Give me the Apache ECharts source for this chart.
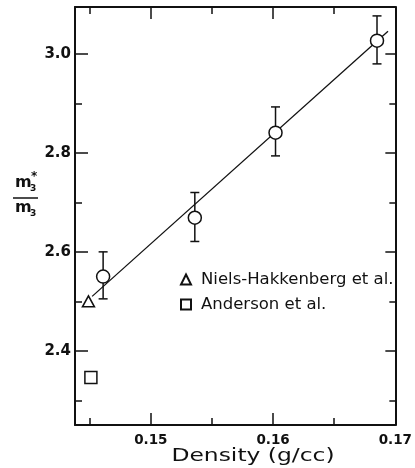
<!DOCTYPE html>
<html>
<head>
<meta charset="utf-8">
<script src="https://cdn.jsdelivr.net/npm/echarts@6/dist/echarts.min.js"></script>
<style>html,body{margin:0;padding:0;background:#fff;}#c{width:415px;height:468px;}</style>
</head>
<body>
<div id="c"></div>
<script>
// ---- data ----
const densities = [0.1461, 0.1536, 0.1602, 0.1685];
const massRatio = [2.550, 2.669, 2.841, 3.027];
const errLow    = [2.505, 2.621, 2.794, 2.980];
const errHigh   = [2.600, 2.720, 2.893, 3.077];
const nielsPoint = [[0.1449, 2.500]];
const andersonPoint = [[0.1451, 2.346]];
const fitLine = [[0.1452, 2.510], [0.1694, 3.046]];
const xMajorTicks = [0.15, 0.16, 0.17];
const xMinorTicks = [0.145, 0.155, 0.165];
const xTickLabels = ['0.15', '0.16', '0.17'];
const yMajorTicks = [2.4, 2.6, 2.8, 3.0];
const yMinorTicks = [2.3, 2.5, 2.7, 2.9];
const yTickLabels = ['2.4', '2.6', '2.8', '3.0'];
const legendNames = ['Niels-Hakkenberg et al.', 'Anderson et al.'];
const xTitle = 'Density (g/cc)';

const FONT = 'DejaVu Sans';
const INK = '#111';
const X_MIN = 0.1438, X_MAX = 0.17, Y_MIN = 2.25, Y_MAX = 3.095;

function fmtX(v) { const i = xMajorTicks.findIndex(t => Math.abs(t - v) < 1e-9); return i >= 0 ? xTickLabels[i] : ''; }
function fmtY(v) { const i = yMajorTicks.findIndex(t => Math.abs(t - v) < 1e-9); return i >= 0 ? yTickLabels[i] : ''; }

function xAx(pos, ticks, len, showLine, labels) {
  return {
    type: 'value', position: pos, min: X_MIN, max: X_MAX, gridIndex: 0,
    axisLine: { show: showLine, onZero: false, lineStyle: { color: INK, width: 2 } },
    axisTick: { show: true, inside: true, length: len, customValues: ticks, lineStyle: { color: INK, width: 1.5 } },
    axisLabel: labels ? { show: true, customValues: ticks, formatter: fmtX, margin: 8,
      fontFamily: FONT, fontSize: 13.5, fontWeight: 'bold', color: INK } : { show: false },
    splitLine: { show: false }
  };
}
function yAx(pos, ticks, len, showLine, labels) {
  return {
    type: 'value', position: pos, min: Y_MIN, max: Y_MAX, gridIndex: 0,
    axisLine: { show: showLine, onZero: false, lineStyle: { color: INK, width: 2 } },
    axisTick: { show: true, inside: true, length: len, customValues: ticks, lineStyle: { color: INK, width: 1.5 } },
    axisLabel: labels ? { show: true, customValues: ticks, formatter: fmtY, margin: 4,
      fontFamily: FONT, fontSize: 15, fontWeight: 'bold', color: INK } : { show: false },
    splitLine: { show: false }
  };
}

const xAxes = [
  xAx('bottom', xMajorTicks, 12, true, true),
  xAx('bottom', xMinorTicks, 7, false, false),
  xAx('top', xMajorTicks, 12, true, false),
  xAx('top', xMinorTicks, 7, false, false)
];

const yAxes = [
  yAx('left', yMajorTicks, 13, true, true),
  yAx('left', yMinorTicks, 7, false, false),
  yAx('right', yMajorTicks, 10, true, false),
  yAx('right', yMinorTicks, 6, false, false)
];

const sym = { color: '#fff', borderColor: INK, borderWidth: 1.5, opacity: 1 };

const chart = echarts.init(document.getElementById('c'), null, { renderer: 'canvas' });
chart.setOption({
  animation: false,
  backgroundColor: '#fff',
  grid: { left: 75, right: 17, top: 7, bottom: 43, containLabel: false },
  xAxis: xAxes,
  yAxis: yAxes,
  legend: {
    orient: 'vertical', left: 180, top: 271, padding: 0, itemWidth: 10, itemHeight: 10, itemGap: 8,
    selectedMode: false,
    textStyle: { fontFamily: FONT, fontSize: 16.5, color: INK, padding: [0, 0, 0, 5] },
    data: [{ name: legendNames[0], icon: 'triangle' }, { name: legendNames[1], icon: 'rect' }]
  },
  graphic: [
    { type: 'text', x: 253, y: 447, scaleX: 1.3, originX: 0, style: { text: xTitle, font: '18px "DejaVu Sans"', fill: INK, align: 'center', verticalAlign: 'top' } },
    { type: 'text', left: 15, top: 175, style: { text: 'm', font: 'bold 16px "DejaVu Sans"', fill: INK } },
    { type: 'text', left: 30, top: 184, style: { text: '3', font: 'bold 9px "DejaVu Sans"', fill: INK } },
    { type: 'text', left: 31, top: 171, style: { text: '*', font: 'bold 12px "DejaVu Sans"', fill: INK } },
    { type: 'line', shape: { x1: 13, y1: 198, x2: 38, y2: 198 }, style: { stroke: INK, lineWidth: 1.5 } },
    { type: 'text', left: 15, top: 200, style: { text: 'm', font: 'bold 16px "DejaVu Sans"', fill: INK } },
    { type: 'text', left: 30, top: 209, style: { text: '3', font: 'bold 9px "DejaVu Sans"', fill: INK } }
  ],
  series: [
    {
      name: 'fit', type: 'line', data: fitLine, symbol: 'none',
      lineStyle: { color: INK, width: 1.3 }, z: 2, silent: true
    },
    {
      name: 'errors', type: 'custom', z: 3, silent: true,
      data: densities.map((d, i) => [d, errLow[i], errHigh[i]]),
      renderItem: function (params, api) {
        const lo = api.coord([api.value(0), api.value(1)]);
        const hi = api.coord([api.value(0), api.value(2)]);
        const cw = 4.5;
        const st = { stroke: INK, lineWidth: 1.5 };
        return { type: 'group', children: [
          { type: 'line', shape: { x1: hi[0], y1: hi[1], x2: lo[0], y2: lo[1] }, style: st },
          { type: 'line', shape: { x1: hi[0] - cw, y1: hi[1], x2: hi[0] + cw, y2: hi[1] }, style: st },
          { type: 'line', shape: { x1: lo[0] - cw, y1: lo[1], x2: lo[0] + cw, y2: lo[1] }, style: st }
        ] };
      }
    },
    {
      name: 'this work', type: 'scatter', z: 5,
      data: densities.map((d, i) => [d, massRatio[i]]),
      symbol: 'circle', symbolSize: 13, itemStyle: sym
    },
    {
      name: legendNames[0], type: 'scatter', z: 5, data: nielsPoint,
      symbol: 'triangle', symbolSize: [12, 11], itemStyle: sym
    },
    {
      name: legendNames[1], type: 'scatter', z: 5, data: andersonPoint,
      symbol: 'rect', symbolSize: 12, itemStyle: sym
    }
  ]
});
</script>
</body>
</html>
